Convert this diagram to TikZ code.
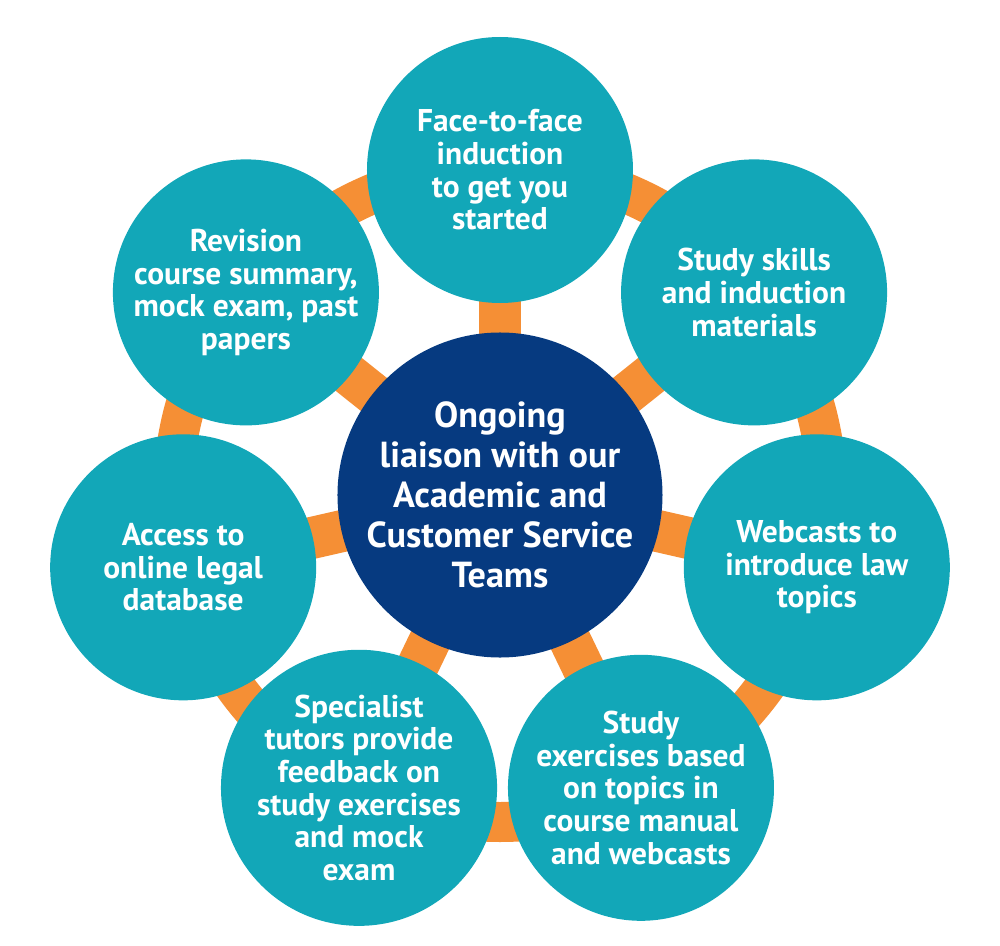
\documentclass[tikz,border=0pt]{standalone}
\usepackage{fontspec}
\setmainfont{PT Sans}
\usetikzlibrary{positioning,backgrounds}
\definecolor{hubblue}{RGB}{6,58,128}
\definecolor{topicteal}{RGB}{18,167,184}
\definecolor{linkorange}{RGB}{245,143,53}

\begin{document}
\begin{tikzpicture}[hub/.style={circle, fill=hubblue, text=white, minimum size=6.16cm, inner sep=0pt, align=center, font=\bfseries\fontsize{20.6}{22.8}\selectfont},
    topic/.style={circle, fill=topicteal, text=white, minimum size=5.32cm, inner sep=0pt, align=center, font=\bfseries\fontsize{17.9}{18.6}\selectfont},
    link/.style={draw=linkorange, line width=0.84cm},
    ring/.style={draw=linkorange, line width=0.8cm}]
    \useasboundingbox (-10,9.9) rectangle (10,-9);
    \node[hub] (hub) at (0,0) {Ongoing \\ liaison with our \\ Academic and \\ Customer Service \\ Teams};
    \node[topic] (induct) at (90:6.5) {Face-to-face \\ induction \\ to get you \\ started};
    \node[topic] (skills) at (38.57:6.5) {Study skills \\ and induction \\ materials};
    \node[topic] (webcast) at (-12.86:6.5) {Webcasts to \\ introduce law \\ topics};
    \node[topic] (exer) at (-64.29:6.5) {Study \\ exercises based \\ on topics in \\ course manual \\ and webcasts};
    \node[topic] (tutor) at (-115.71:6.5) {Specialist \\ tutors provide \\ feedback on \\ study exercises \\ and mock \\ exam};
    \node[topic] (legal) at (-167.14:6.5) {Access to \\ online legal \\ database};
    \node[topic] (revise) at (141.43:6.5) {Revision \\ course summary, \\ mock exam, past \\ papers};
    
    \begin{scope}[on background layer]
        \draw[ring] (hub.center) circle[radius=6.54];
        \draw[link] (hub.center) -- (induct.center);
        \draw[link] (hub.center) -- (skills.center);
        \draw[link] (hub.center) -- (webcast.center);
        \draw[link] (hub.center) -- (exer.center);
        \draw[link] (hub.center) -- (tutor.center);
        \draw[link] (hub.center) -- (legal.center);
        \draw[link] (hub.center) -- (revise.center);
    \end{scope}
\end{tikzpicture}
\end{document}
